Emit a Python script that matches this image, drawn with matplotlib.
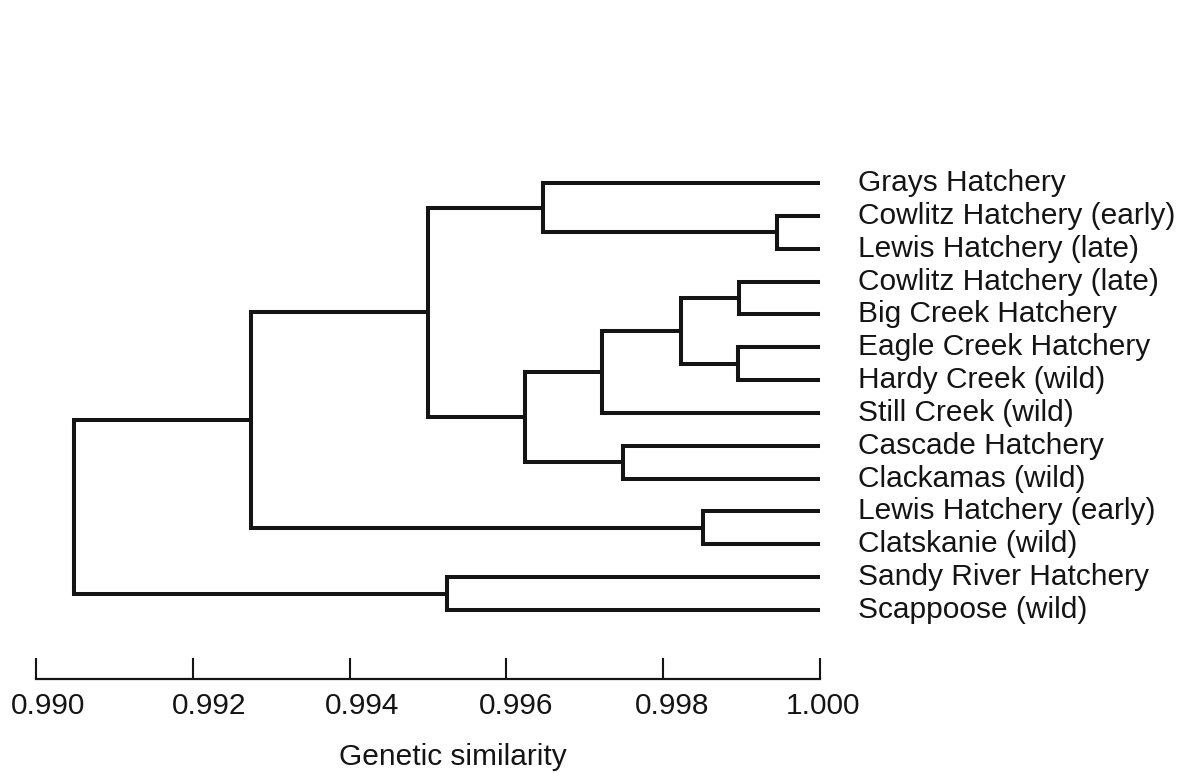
import matplotlib.pyplot as plt
from matplotlib.transforms import ScaledTranslation

plt.rcParams['font.family'] = ['Liberation Sans', 'DejaVu Sans']

# leaves, top to bottom
leaves = ['Grays Hatchery', 'Cowlitz Hatchery (early)', 'Lewis Hatchery (late)',
          'Cowlitz Hatchery (late)', 'Big Creek Hatchery', 'Eagle Creek Hatchery',
          'Hardy Creek (wild)', 'Still Creek (wild)', 'Cascade Hatchery',
          'Clackamas (wild)', 'Lewis Hatchery (early)', 'Clatskanie (wild)',
          'Sandy River Hatchery', 'Scappoose (wild)']

# merges (linkage style): child a, child b (leaf index, or 14 + earlier merge), similarity
merge_a = [1, 3, 5, 15, 17, 8, 18, 0, 21, 10, 22, 12, 24]
merge_b = [2, 4, 6, 16, 7, 9, 19, 14, 20, 11, 23, 13, 25]
merge_sim = [0.99945, 0.99897, 0.99896, 0.99823, 0.99722, 0.99749, 0.99624,
             0.99647, 0.99500, 0.99851, 0.99274, 0.99524, 0.99048]

ticks = [0.990, 0.992, 0.994, 0.996, 0.998, 1.000]
tick_labels = ['0.990', '0.992', '0.994', '0.996', '0.998', '1.000']

W, H = 1189, 773
fig = plt.figure(figsize=(W / 100, H / 100), dpi=100)
left_px, right_px, top_px, bot_px = 36, 820, 150, 679
ax = fig.add_axes([left_px / W, 1 - bot_px / H, (right_px - left_px) / W, (bot_px - top_px) / H])

# leaf rows at 183..610 px
step = (610 - 183) / 13
ax.set_ylim(13 + (bot_px - 610) / step, -(183 - top_px) / step)
ax.set_xlim(0.990, 1.000)

pos_x = [1.0] * len(leaves)
pos_y = list(range(len(leaves)))
ink = '#141414'
for a, b, s in zip(merge_a, merge_b, merge_sim):
    ya, yb = pos_y[a], pos_y[b]
    ax.plot([pos_x[a], s, s, pos_x[b]], [ya, ya, yb, yb], color=ink,
            lw=2.9, solid_joinstyle='miter', solid_capstyle='butt', clip_on=False)
    pos_x.append(s)
    pos_y.append((ya + yb) / 2)

fs = 21.5
for i, name in enumerate(leaves):
    ax.annotate(name, xy=(1.0, i), xytext=(27.5, 0), textcoords='offset points',
                va='center', ha='left', fontsize=fs, color=ink,
                annotation_clip=False)

for side in ['top', 'right', 'left']:
    ax.spines[side].set_visible(False)
ax.spines['bottom'].set_linewidth(1.6)
ax.spines['bottom'].set_color(ink)
ax.set_yticks([])
ax.set_xticks(ticks)
ax.set_xticklabels(tick_labels)
ax.tick_params(axis='x', direction='in', length=15, width=1.5, pad=9,
               labelsize=fs, colors=ink)

# the printed labels sit a little right of their ticks
label_shift_px = [12, 16, 12, 10, 9, 3]
for lab, dx in zip(ax.get_xticklabels(), label_shift_px):
    lab.set_transform(lab.get_transform() + ScaledTranslation(dx / 100, 0, fig.dpi_scale_trans))

ax.set_xlabel('Genetic similarity', fontsize=fs, color=ink)
ax.xaxis.set_label_coords((453 - left_px) / (right_px - left_px), -(765 - bot_px) / (bot_px - top_px))
ax.xaxis.label.set_va('baseline')

fig.savefig('out.png', dpi=100)
